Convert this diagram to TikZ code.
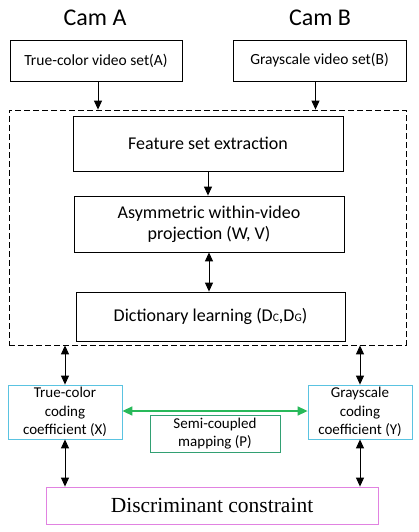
\documentclass[tikz,border=0pt]{standalone}
\usepackage{fontspec}
\setmainfont{Carlito}
\newfontfamily\serifface{Liberation Serif}
\usetikzlibrary{arrows.meta}
\definecolor{cyanbox}{RGB}{90,195,225}
\definecolor{greenarr}{RGB}{40,185,90}
\definecolor{tealbox}{RGB}{50,160,115}
\definecolor{violetbox}{RGB}{225,130,225}
\tikzset{
  box/.style={draw=black, line width=0.8pt, inner sep=0pt, align=center, font=\fontsize{15.5}{18}\selectfont},
  bigbox/.style={box, font=\fontsize{18}{21}\selectfont},
  cbox/.style={draw=cyanbox, line width=0.8pt, inner sep=0pt, align=center, font=\fontsize{15}{18.5}\selectfont},
  arr/.style={line width=1pt, -{Triangle[length=9pt,width=8pt]}},
  darr/.style={line width=1pt, {Triangle[length=9pt,width=8pt]}-{Triangle[length=9pt,width=8pt]}},
  garr/.style={line width=1.5pt, draw=greenarr, fill=greenarr, {Triangle[length=10pt,width=9pt]}-{Triangle[length=10pt,width=9pt]}},
  camlabel/.style={font=\fontsize{24}{27}\selectfont, inner sep=0pt}
}
\begin{document}
\begin{tikzpicture}[x=1pt,y=-1pt]
\useasboundingbox (0,0) rectangle (419,532);
\node[camlabel] (camA) at (95,17.5) {Cam A};
\node[camlabel] (camB) at (320,17.5) {Cam B};
\node[box, minimum width=172pt, minimum height=41pt] (A) at (96,60.5) {True-color video set(A)};
\node[box, minimum width=173pt, minimum height=41pt] (B) at (319.5,60.5) {Grayscale video set(B)};
\node[draw=black, dash pattern=on 6pt off 3pt, line width=0.8pt, minimum width=397pt, minimum height=235pt, inner sep=0pt] (grp) at (207.5,227.5) {};
\node[bigbox, minimum width=270pt, minimum height=55pt] (feat) at (208,143.5) {Feature set extraction};
\node[bigbox, minimum width=270pt, minimum height=56pt] (asym) at (209,224) {Asymmetric within-video\\projection (W, V)};
\node[bigbox, minimum width=269pt, minimum height=49pt] (dict) at (210.5,316.5) {Dictionary learning (D{\fontsize{11.5}{12}\selectfont C},D{\fontsize{11.5}{12}\selectfont G})};
\node[cbox, minimum width=114pt, minimum height=54pt] (X) at (65,412) {True-color\\coding\\coefficient (X)};
\node[cbox, minimum width=104pt, minimum height=54pt] (Y) at (360,412) {Grayscale\\coding\\coefficient (Y)};
\node[cbox, draw=tealbox, minimum width=130pt, minimum height=37pt] (P) at (215,433.5) {Semi-coupled\\mapping (P)};
\node[draw=violetbox, line width=0.8pt, minimum width=332pt, minimum height=37pt, inner sep=0pt, font=\serifface\fontsize{21.5}{24}\selectfont] (D) at (212,505.5) {Discriminant constraint};
\draw[arr] ([xshift=2pt]A.south) -- ([xshift=2pt]A.south |- grp.north);
\draw[arr] ([xshift=-4pt]B.south) -- ([xshift=-4pt]B.south |- grp.north);
\draw[arr] (feat.south) -- (feat.south |- asym.north);
\draw[darr] (asym.south) -- (asym.south |- dict.north);
\draw[darr] (X.north) -- (X.north |- grp.south);
\draw[darr] (Y.north) -- (Y.north |- grp.south);
\draw[darr] (X.south) -- (X.south |- D.north);
\draw[darr] (Y.south) -- (Y.south |- D.north);
\draw[garr] ([yshift=1pt]X.east) -- ([yshift=1pt]X.east -| Y.west);
\end{tikzpicture}
\end{document}
